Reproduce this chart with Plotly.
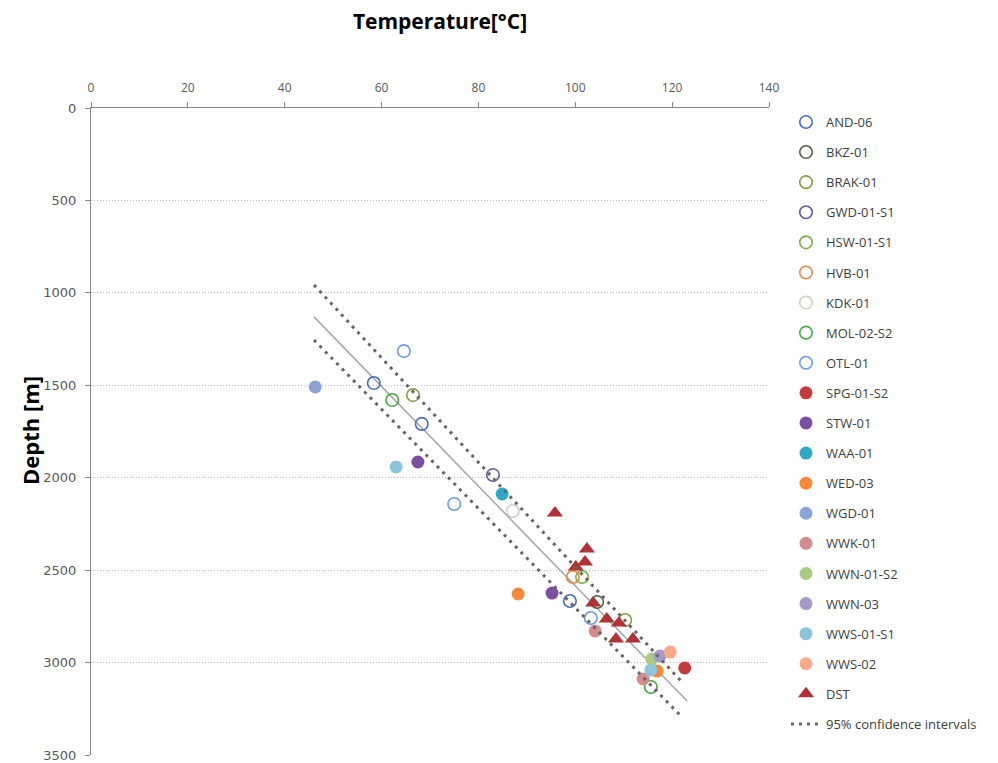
import plotly.graph_objects as go

# Well names, marker colours and symbols (open circles = logs, filled = BHT, triangles = DST)
wells = ["AND-06", "BKZ-01", "BRAK-01", "GWD-01-S1", "HSW-01-S1", "HVB-01", "KDK-01",
         "MOL-02-S2", "OTL-01", "SPG-01-S2", "STW-01", "WAA-01", "WED-03", "WGD-01",
         "WWK-01", "WWN-01-S2", "WWN-03", "WWS-01-S1", "WWS-02", "DST"]
colors = ["#4A6DB5", "#5C5C50", "#8A9E48", "#6A5AA0", "#7FAE4A", "#E0884A", "#C9D2C2",
          "#45A845", "#6C9FDF", "#C23B3D", "#7B4FA2", "#2FA8C6", "#F58A3A", "#8AA5D5",
          "#D48D8D", "#A9CC82", "#A898CA", "#8CC5D9", "#F8AA88", "#B03234"]
symbols = ["circle-open"] * 9 + ["circle"] * 10 + ["triangle-up"]

# Temperatures [°C] and depths [m] per well
temps = [
    [58.4, 68.3, 98.9],
    [104.5],
    [66.5, 110.3],
    [83.0],
    [101.4],
    [99.5],
    [87.1],
    [62.2, 115.6],
    [64.6, 75.0, 103.2],
    [122.6],
    [67.5, 95.2],
    [84.9],
    [88.2, 116.9],
    [46.3],
    [104.1, 114.0],
    [115.8],
    [117.5],
    [63.0, 115.6],
    [119.6],
    [95.8, 102.4, 102.0, 100.1, 103.7, 106.5, 109.0, 108.4, 111.9],
]
depths = [
    [1488, 1709, 2667],
    [2672],
    [1553, 2770],
    [1985],
    [2537],
    [2537],
    [2180],
    [1580, 3132],
    [1315, 2142, 2759],
    [3029],
    [1915, 2624],
    [2088],
    [2629, 3046],
    [1509],
    [2829, 3089],
    [2981],
    [2964],
    [1942, 3040],
    [2943],
    [2191, 2386, 2456, 2483, 2678, 2764, 2786, 2872, 2872],
]

# Linear fit and 95% confidence bounds (end points)
fit_temp = [46.05, 123.1]
fit_depth = [1130, 3208]
ci_upper_temp = [46.05, 122.2]
ci_upper_depth = [957, 3110]
ci_lower_temp = [46.05, 122.0]
ci_lower_depth = [1255, 3294]

x_ticks = [0, 20, 40, 60, 80, 100, 120, 140]
y_ticks = [0, 500, 1000, 1500, 2000, 2500, 3000, 3500]

fig = go.Figure()

fig.add_trace(go.Scatter(
    x=fit_temp, y=fit_depth, mode="lines", showlegend=False,
    line=dict(color="#A6A6A6", width=1.5), hoverinfo="skip"))

for name, c, s, t, d in zip(wells, colors, symbols, temps, depths):
    if s == "circle-open":
        marker = dict(color=c, symbol=s, size=12.5, line=dict(width=1.6, color=c))
    elif s == "circle":
        marker = dict(color=c, symbol=s, size=13, line=dict(width=0))
    else:
        marker = dict(color=c, symbol=s, size=14, line=dict(width=0))
    fig.add_trace(go.Scatter(x=t, y=d, mode="markers", name=name, marker=marker,
                             legendgroup=name))

fig.add_trace(go.Scatter(
    x=ci_upper_temp + [None] + ci_lower_temp,
    y=ci_upper_depth + [None] + ci_lower_depth,
    mode="lines", name="95% confidence intervals", legendgroup="ci",
    line=dict(color="#666666", width=3, dash="3px,5px")))

fig.update_layout(
    width=998, height=763,
    margin=dict(l=91, r=229, t=108, b=8),
    paper_bgcolor="white", plot_bgcolor="white",
    font=dict(family="Open Sans", color="#595959"),
    title=dict(text="<b>Temperature[°C]</b>", x=440 / 998, xanchor="center",
               y=1 - 22 / 763, yanchor="middle",
               font=dict(family="Open Sans", size=21, color="#000000")),
    legend=dict(x=(786 - 91) / 678, xanchor="left", y=1 + 1 / 647, yanchor="top",
                font=dict(family="Open Sans", size=13, color="#404040"),
                tracegroupgap=10.2, traceorder="grouped", bgcolor="rgba(0,0,0,0)",
                maxheight=740),
    annotations=[dict(text="<b>Depth [m]</b>", xref="paper", yref="paper",
                      x=(30 - 91) / 678, y=1 - (430 - 108) / 647,
                      xanchor="center", yanchor="middle", textangle=-90, showarrow=False,
                      font=dict(family="Open Sans", size=22, color="#000000"))],
)

fig.update_xaxes(
    side="top", range=[0, 140], tickvals=x_ticks, showgrid=False, zeroline=False,
    showline=True, linecolor="#868686", linewidth=1, automargin=False,
    ticks="outside", ticklen=5, tickcolor="#868686", ticklabelstandoff=5,
    tickfont=dict(size=12, color="#595959"))

fig.update_yaxes(
    range=[3500, 0], tickvals=y_ticks, zeroline=False, automargin=False,
    showgrid=True, gridcolor="#BDBDBD", griddash="1px,2px", gridwidth=1,
    showline=True, linecolor="#868686", linewidth=1,
    ticks="outside", ticklen=5, tickcolor="#868686", ticklabelstandoff=6,
    tickfont=dict(family="DejaVu Sans", size=13, color="#595959"))

fig.write_html("out.html")
